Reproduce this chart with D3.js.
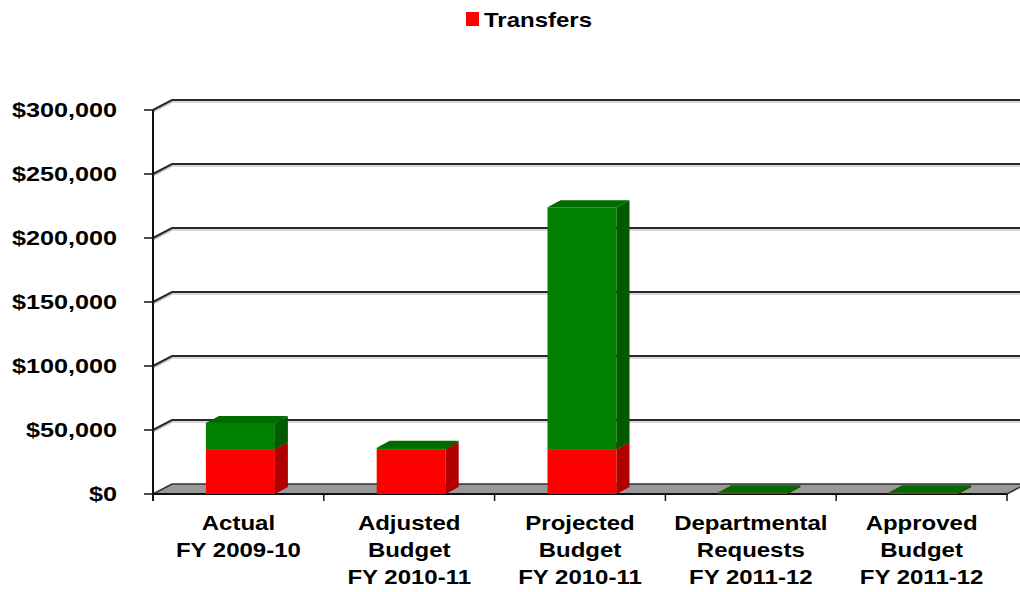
<!DOCTYPE html>
<html>
<head>
<meta charset="utf-8">
<script src="https://cdn.jsdelivr.net/npm/d3@7"></script>
<style>
  body { margin: 0; background: #fff; }
  text { font-family: Arial, "Liberation Sans", sans-serif; font-weight: bold; fill: #000; }
</style>
</head>
<body>
<div id="chart"></div>
<script>
// chart data
const categories = [
  ["Actual", "FY 2009-10"],
  ["Adjusted", "Budget", "FY 2010-11"],
  ["Projected", "Budget", "FY 2010-11"],
  ["Departmental", "Requests", "FY 2011-12"],
  ["Approved", "Budget", "FY 2011-12"]
];
const transfers = [35000, 35000, 35000, 0, 0];
const other = [20500, 0, 189000, 0, 0];
const yTicks = [0, 50000, 100000, 150000, 200000, 250000, 300000];

const W = 1020, H = 592;
const svg = d3.select("#chart").append("svg").attr("width", W).attr("height", H);

const x = d3.scaleBand().domain(d3.range(categories.length)).range([153, 1007]);
const y = d3.scaleLinear().domain([0, 300000]).range([494, 110]);

const wallDx = 19, wallDy = -10;   // depth of the back wall
const barDx = 13, barDy = -7;      // depth of each bar
const barW = 69, barShift = 2;
const stretch = 1.2;               // text in the reference is stretched wide

// floor
const x0 = x.range()[0], x1 = x.range()[1];
svg.append("polygon")
  .attr("points", [[x0, y(0)], [x1, y(0)], [x1 + wallDx, y(0) + wallDy], [x0 + wallDx, y(0) + wallDy]].join(" "))
  .attr("fill", "#999")
  .attr("stroke", "#333")
  .attr("stroke-width", 1.5);

// gridlines on the back wall
const grid = svg.append("g");
yTicks.filter(t => t > 0).forEach(t => {
  const yy = y(t);
  grid.append("polyline")
    .attr("points", `${x0},${yy + 2} ${x0 + wallDx},${yy + wallDy + 2} ${W},${yy + wallDy + 2}`)
    .attr("fill", "none").attr("stroke", "#c8c8c8").attr("stroke-width", 1.5);
  grid.append("polyline")
    .attr("points", `${x0},${yy} ${x0 + wallDx},${yy + wallDy} ${W},${yy + wallDy}`)
    .attr("fill", "none").attr("stroke", "#2a2a2a").attr("stroke-width", 2);
});

// axes lines and ticks
svg.append("line").attr("x1", x0).attr("x2", x0).attr("y1", y(300000)).attr("y2", y(0) + 7)
  .attr("stroke", "#111").attr("stroke-width", 2);
svg.append("line").attr("x1", x0).attr("x2", x1).attr("y1", y(0)).attr("y2", y(0))
  .attr("stroke", "#111").attr("stroke-width", 2);
yTicks.forEach(t => {
  svg.append("line").attr("x1", x0 - 9).attr("x2", x0).attr("y1", y(t)).attr("y2", y(t))
    .attr("stroke", "#111").attr("stroke-width", 1.5);
});
d3.range(categories.length + 1).forEach(i => {
  const xx = i < categories.length ? x(i) : x1;
  svg.append("line").attr("x1", xx).attr("x2", xx).attr("y1", y(0)).attr("y2", y(0) + 7)
    .attr("stroke", "#111").attr("stroke-width", 1.5);
});

// y labels
const fmt = d => "$" + d3.format(",")(d);
svg.append("g").selectAll("text").data(yTicks).join("text")
  .attr("transform", d => `translate(117,${y(d) + 7}) scale(${stretch},1)`)
  .attr("text-anchor", "end")
  .style("font-size", "21px")
  .text(fmt);

// x labels
const xl = svg.append("g");
categories.forEach((lines, i) => {
  const cx = x(i) + x.bandwidth() / 2;
  lines.forEach((ln, j) => {
    xl.append("text")
      .attr("transform", `translate(${cx},${530 + j * 27}) scale(${stretch},1)`)
      .attr("text-anchor", "middle")
      .style("font-size", "20px")
      .text(ln);
  });
});

// stacked 3D bars
const series = [
  { values: transfers, front: "#ff0000", side: "#b00000", top: "#d40000" },
  { values: other, front: "#008000", side: "#005a00", top: "#006c00" }
];
const bars = svg.append("g");
categories.forEach((c, i) => {
  const left = x(i) + x.bandwidth() / 2 - barW / 2 + barShift;
  const right = left + barW;
  let base = 0;
  series.forEach(s => {
    const v = s.values[i];
    const yb = y(base), yt = y(base + v);
    const h = Math.max(yb - yt, 1.5);
    const top = yb - h;
    bars.append("rect")
      .attr("x", left).attr("y", top).attr("width", barW).attr("height", h)
      .attr("fill", s.front);
    bars.append("polygon")
      .attr("points", [[right, yb], [right, top], [right + barDx, top + barDy], [right + barDx, yb + barDy]].join(" "))
      .attr("fill", s.side);
    bars.append("polygon")
      .attr("points", [[left, top], [right, top], [right + barDx, top + barDy], [left + barDx, top + barDy]].join(" "))
      .attr("fill", s.top);
    base += v;
  });
});

// legend
const lg = svg.append("g");
lg.append("rect").attr("x", 466).attr("y", 12).attr("width", 13).attr("height", 14).attr("fill", "#ff0000");
lg.append("text")
  .attr("transform", `translate(484,27) scale(${stretch},1)`)
  .style("font-size", "20px")
  .text("Transfers");
</script>
</body>
</html>
